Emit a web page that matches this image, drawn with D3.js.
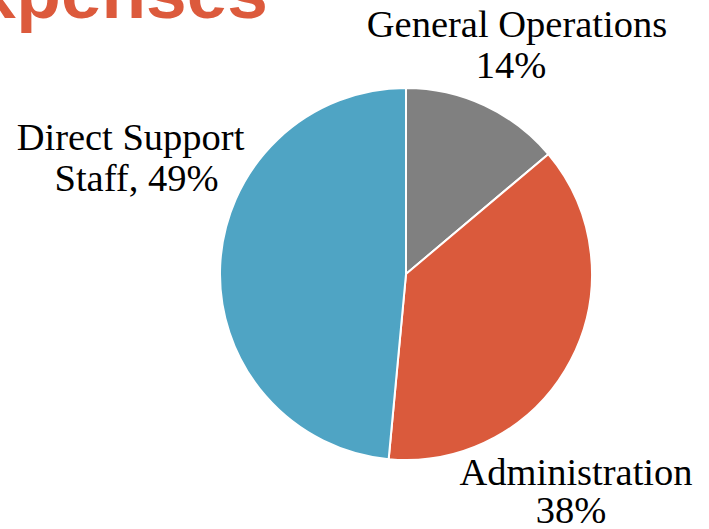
<!DOCTYPE html>
<html>
<head>
<meta charset="utf-8">
<script src="https://cdn.jsdelivr.net/npm/d3@7"></script>
<style>
  html, body { margin: 0; padding: 0; background: #ffffff; overflow: hidden; }
  svg { display: block; }
</style>
</head>
<body>
<svg id="chart" width="709" height="529"></svg>
<script>
// ---- data ----
const categories = ["General Operations", "Administration", "Direct Support Staff"];
const values = [14, 38, 49];
const labelLines = [["General Operations", "14%"], ["Administration", "38%"], ["Direct Support", "Staff, 49%"]];
const title = "Expenses";

// ---- layout / style ----
const colors = ["#808080", "#DA5A3C", "#4FA4C4"];
const cx = 406, cy = 274, radius = 186;
// per-line label anchor positions (centre x, baseline y)
const labelAnchors = [
  [{ x: 517, y: 37 }, { x: 511, y: 78 }],
  [{ x: 576, y: 485 }, { x: 571, y: 523 }],
  [{ x: 130.5, y: 150 }, { x: 136.5, y: 191 }]
];

const svg = d3.select("#chart");

svg.append("text")
  .attr("x", -73)
  .attr("y", 18)
  .attr("font-family", "'Liberation Sans', Arial, sans-serif")
  .attr("font-weight", "bold")
  .attr("font-size", 73)
  .attr("fill", "#DC5A3C")
  .text(title);

const pie = d3.pie().sort(null).value(d => d);
const arc = d3.arc().innerRadius(0).outerRadius(radius);

const g = svg.append("g").attr("transform", `translate(${cx},${cy})`);
g.selectAll("path")
  .data(pie(values))
  .join("path")
  .attr("d", arc)
  .attr("fill", (d, i) => colors[i])
  .attr("stroke", "#ffffff")
  .attr("stroke-width", 2);

const labels = svg.selectAll("text.lbl")
  .data(categories)
  .join("text")
  .attr("class", "lbl")
  .attr("font-family", "'Liberation Serif', 'Times New Roman', serif")
  .attr("font-size", 38.5)
  .attr("fill", "#000000")
  .attr("text-anchor", "middle");

labels.each(function(d, i) {
  const t = d3.select(this);
  labelLines[i].forEach((line, j) => {
    t.append("tspan")
      .attr("x", labelAnchors[i][j].x)
      .attr("y", labelAnchors[i][j].y)
      .text(line);
  });
});
</script>
</body>
</html>
